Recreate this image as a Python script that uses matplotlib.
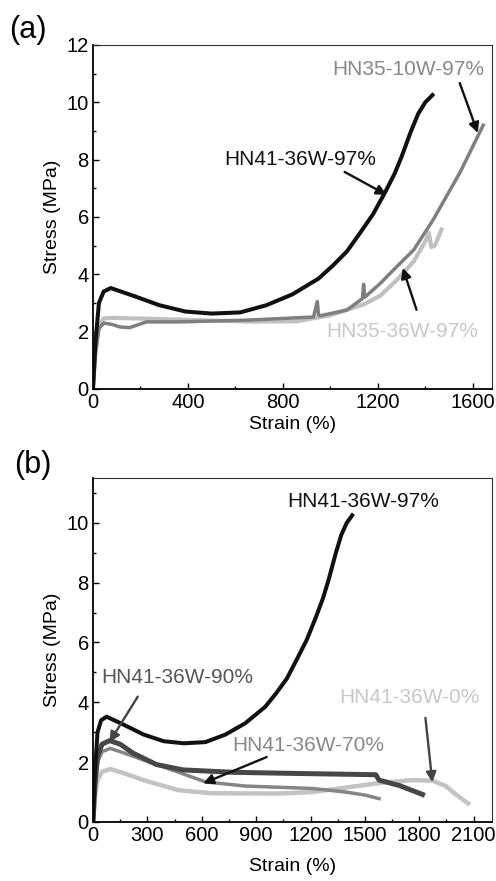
import numpy as np
import matplotlib.pyplot as plt
from matplotlib.ticker import MultipleLocator

plt.rcParams['font.family'] = ['Liberation Sans', 'DejaVu Sans']

# HN41-36W-97% (same sample in both panels)
s_41_97 = [0, 10, 25, 45, 75, 110, 170, 280, 390, 500, 620, 730, 840, 950,
           1010, 1070, 1130, 1180, 1230, 1270, 1300, 1340, 1370, 1400, 1430]
f_41_97 = [0, 1.6, 3.0, 3.4, 3.52, 3.42, 3.25, 2.92, 2.7, 2.63, 2.67, 2.92, 3.3, 3.85,
           4.3, 4.8, 5.5, 6.1, 6.85, 7.5, 8.1, 9.0, 9.6, 10.0, 10.25]

# HN35-10W-97%
s_35_10 = [0, 10, 25, 45, 80, 115, 155, 225, 366, 647, 929, 945, 950, 955, 1069,
           1135, 1140, 1145, 1210, 1280, 1351, 1433, 1546, 1644]
f_35_10 = [0, 1.2, 2.1, 2.3, 2.25, 2.16, 2.14, 2.34, 2.34, 2.4, 2.51, 3.05, 2.6, 2.55, 2.75,
           3.15, 3.65, 3.2, 3.68, 4.27, 4.85, 5.9, 7.55, 9.2]

# HN35-36W-97%
s_35_36 = [0, 10, 25, 45, 84, 366, 647, 858, 999, 1140, 1210, 1280, 1351, 1400,
           1415, 1425, 1440, 1468]
f_35_36 = [0, 1.3, 2.2, 2.46, 2.48, 2.42, 2.35, 2.36, 2.57, 2.95, 3.25, 3.8, 4.45, 5.15,
           5.45, 4.95, 5.0, 5.56]

# HN41-36W-90%
s_41_90 = [0, 10, 25, 50, 92, 150, 221, 350, 497, 774, 1142, 1560, 1578, 1689, 1818]
f_41_90 = [0, 1.2, 2.2, 2.6, 2.72, 2.6, 2.3, 1.92, 1.74, 1.66, 1.62, 1.58, 1.4, 1.22, 0.92]

# HN41-36W-70%
s_41_70 = [0, 10, 25, 50, 95, 150, 289, 473, 620, 842, 1210, 1394, 1500, 1578]
f_41_70 = [0, 1.1, 2.0, 2.35, 2.46, 2.35, 2.05, 1.66, 1.34, 1.2, 1.12, 1.0, 0.9, 0.78]

# HN41-36W-0%
s_41_0 = [0, 10, 25, 50, 95, 160, 289, 473, 657, 1026, 1210, 1394, 1578, 1762, 1873,
          1947, 2002, 2040, 2070]
f_41_0 = [0, 0.8, 1.4, 1.68, 1.77, 1.65, 1.38, 1.06, 0.96, 0.95, 1.0, 1.15, 1.3, 1.4, 1.38,
          1.2, 0.92, 0.75, 0.62]

fig = plt.figure(figsize=(4.96, 8.81), dpi=100)
ax1 = fig.add_axes([0.1875, 0.5585, 0.804, 0.3905])
ax2 = fig.add_axes([0.1875, 0.067, 0.804, 0.3905])

fs_tick = 14.5
fs_note = 15


def style(ax, xpad):
    ax.tick_params(which='both', direction='in', top=False, right=False,
                   labelsize=fs_tick, pad=3)
    ax.tick_params(which='major', length=4, width=1)
    ax.tick_params(which='minor', length=2.5, width=1)
    for side in ['left', 'bottom']:
        ax.spines[side].set_linewidth(1.3)
    for side in ['top', 'right']:
        ax.spines[side].set_linewidth(0.8)
        ax.spines[side].set_color('#333333')
    ax.set_xlabel('Strain (%)', fontsize=14, labelpad=xpad)
    ax.set_ylabel('Stress (MPa)', fontsize=14, labelpad=4)


arrow = dict(arrowstyle='-|>', lw=1.7, mutation_scale=15, shrinkA=0, shrinkB=0)

# panel (a)
ax1.plot(s_35_36, f_35_36, color='#c0c0c0', lw=3.0)
ax1.plot(s_35_10, f_35_10, color='#7f7f7f', lw=2.5)
ax1.plot(s_41_97, f_41_97, color='#111111', lw=2.9)
ax1.set_xlim(0, 1680)
ax1.set_ylim(0, 12)
ax1.xaxis.set_major_locator(MultipleLocator(400))
ax1.xaxis.set_minor_locator(MultipleLocator(200))
ax1.yaxis.set_major_locator(MultipleLocator(2))
ax1.yaxis.set_minor_locator(MultipleLocator(1))
style(ax1, 3)

ax1.text(555, 8.0, 'HN41-36W-97%', fontsize=fs_note, color='#111111', va='center')
ax1.annotate('', xy=(1237, 6.77), xytext=(1060, 7.57),
             arrowprops=dict(arrow, color='#111111'))
ax1.text(1010, 11.16, 'HN35-10W-97%', fontsize=fs_note, color='#888888', va='center')
ax1.annotate('', xy=(1621, 8.93), xytext=(1545, 10.67),
             arrowprops=dict(arrow, color='#111111'))
ax1.text(983, 1.99, 'HN35-36W-97%', fontsize=fs_note, color='#c8c8c8', va='center')
ax1.annotate('', xy=(1305, 4.22), xytext=(1363, 2.76),
             arrowprops=dict(arrow, color='#111111'))

# panel (b)
ax2.plot(s_41_0, f_41_0, color='#c3c3c3', lw=3.2)
ax2.plot(s_41_70, f_41_70, color='#858585', lw=2.5)
ax2.plot(s_41_90, f_41_90, color='#474747', lw=3.6)
ax2.plot(s_41_97, f_41_97, color='#111111', lw=2.9)
ax2.set_xlim(0, 2200)
ax2.set_ylim(0, 11.5)
ax2.xaxis.set_major_locator(MultipleLocator(300))
ax2.xaxis.set_minor_locator(MultipleLocator(150))
ax2.yaxis.set_major_locator(MultipleLocator(2))
ax2.yaxis.set_minor_locator(MultipleLocator(1))
style(ax2, 9)

ax2.text(1071, 10.72, 'HN41-36W-97%', fontsize=fs_note, color='#111111', va='center')
ax2.text(47, 4.82, 'HN41-36W-90%', fontsize=fs_note, color='#555555', va='center')
ax2.annotate('', xy=(91, 2.67), xytext=(247, 4.19),
             arrowprops=dict(arrow, color='#444444'))
ax2.text(766, 2.57, 'HN41-36W-70%', fontsize=fs_note, color='#888888', va='center')
ax2.annotate('', xy=(608, 1.29), xytext=(958, 2.17),
             arrowprops=dict(arrow, color='#111111'))
ax2.text(1359, 4.15, 'HN41-36W-0%', fontsize=fs_note, color='#c8c8c8', va='center')
ax2.annotate('', xy=(1872, 1.33), xytext=(1834, 3.48),
             arrowprops=dict(arrow, color='#444444'))

fig.text(0.018, 0.966, '(a)', fontsize=22, va='center', ha='left')
fig.text(0.028, 0.472, '(b)', fontsize=22, va='center', ha='left')

fig.savefig('out.png', dpi=100)
